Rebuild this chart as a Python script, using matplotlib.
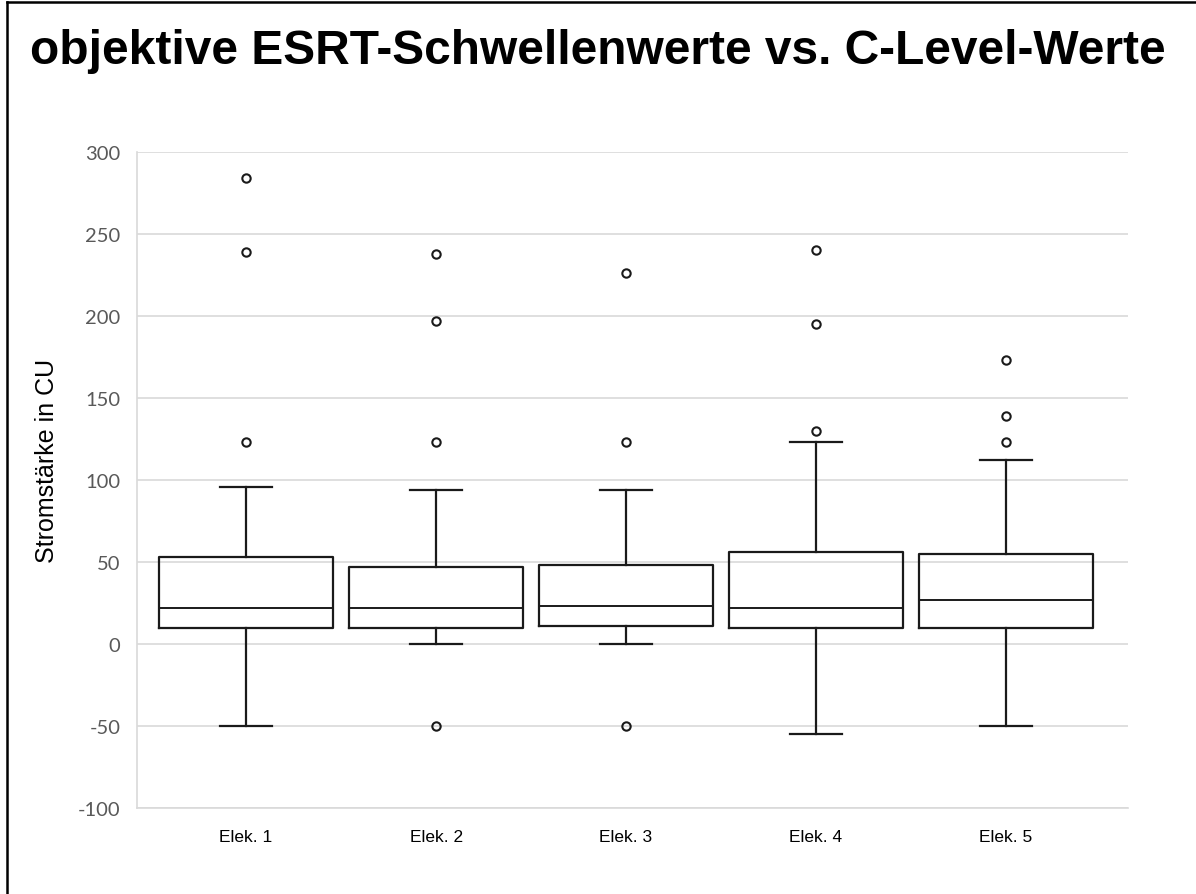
import matplotlib
matplotlib.use("Agg")
import matplotlib.pyplot as plt
from matplotlib.lines import Line2D

categories = ["Elek. 1", "Elek. 2", "Elek. 3", "Elek. 4", "Elek. 5"]
q1 = [10, 10, 11, 10, 10]
median = [22, 22, 23, 22, 27]
q3 = [53, 47, 48, 56, 55]
whisker_low = [-50, 0, 0, -55, -50]
whisker_high = [96, 94, 94, 123, 112]
outliers = [
    [123, 239, 284],
    [-50, 123, 197, 238],
    [-50, 123, 226],
    [130, 195, 240],
    [123, 139, 173],
]
y_ticks = [-100, -50, 0, 50, 100, 150, 200, 250, 300]

stats = []
for i in range(len(categories)):
    stats.append({
        "med": median[i], "q1": q1[i], "q3": q3[i],
        "whislo": whisker_low[i], "whishi": whisker_high[i],
        "fliers": outliers[i], "label": categories[i],
    })

fig = plt.figure(figsize=(11.96, 8.95), dpi=100)
ax = fig.add_axes([0.1146, 0.0961, 0.8285, 0.7329])

line = dict(color="#1a1a1a", linewidth=1.6)
ax.bxp(stats, positions=range(1, 6), widths=0.916, showfliers=True,
       boxprops=line, whiskerprops=line, capprops=line,
       medianprops=dict(color="#1a1a1a", linewidth=1.4),
       flierprops=dict(marker="o", markersize=6, markerfacecolor="none",
                       markeredgecolor="#1a1a1a", markeredgewidth=1.5),
       capwidths=0.27)

ax.set_xlim(0.426, 5.642)
ax.set_ylim(-100, 300)
ax.set_yticks(y_ticks)
ax.set_yticklabels([str(v) for v in y_ticks], fontsize=14.5, color="#595959",
                   family=["Lato", "DejaVu Sans"])
ax.set_xticks(range(1, 6))
ax.set_xticklabels(categories, fontsize=12.5, family=["Liberation Sans"])
ax.tick_params(axis="both", length=0)
ax.tick_params(axis="x", pad=15)
ax.tick_params(axis="y", pad=12)

ax.grid(axis="y", color="#d9d9d9", linewidth=1.2)
ax.set_axisbelow(True)
for side in ["top", "right"]:
    ax.spines[side].set_visible(False)
ax.spines["left"].set_color("#d9d9d9")
ax.spines["bottom"].set_color("#d9d9d9")
ax.spines["left"].set_linewidth(1.2)
ax.spines["bottom"].set_linewidth(1.2)

fig.text(0.5, 1 - 52 / 895, "objektive ESRT-Schwellenwerte vs. C-Level-Werte",
         ha="center", va="center", fontsize=34.5, fontweight="bold",
         family=["Liberation Sans"])
fig.text(47 / 1196, 1 - 461 / 895, "Stromstärke in CU", rotation=90,
         ha="center", va="center", fontsize=18, family=["Liberation Sans"])

fig.add_artist(Line2D([7 / 1196, 7 / 1196], [0, 1 - 3 / 895], color="black",
                      linewidth=1.8, transform=fig.transFigure))
fig.add_artist(Line2D([7 / 1196, 1], [1 - 3 / 895, 1 - 3 / 895], color="black",
                      linewidth=1.8, transform=fig.transFigure))

fig.savefig("out.png", dpi=100)
